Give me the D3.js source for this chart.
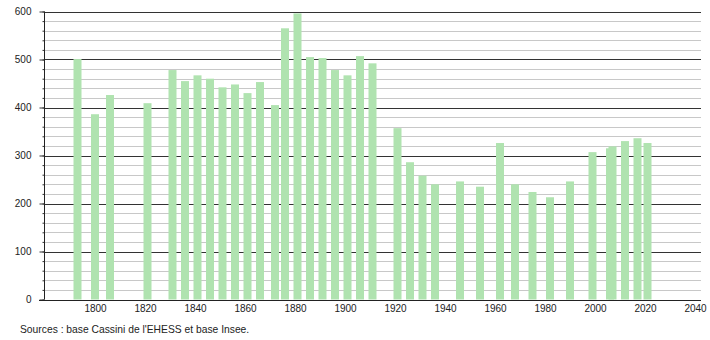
<!DOCTYPE html>
<html>
<head>
<meta charset="utf-8">
<script src="https://cdn.jsdelivr.net/npm/d3@7"></script>
<style>
  body { margin: 0; background: #fff; }
  svg { display: block; font-family: "Liberation Sans", Arial, sans-serif; }
</style>
</head>
<body>
<div id="chart"></div>
<script>
// census years and population
const years = [1793, 1800, 1806, 1821, 1831, 1836, 1841, 1846, 1851, 1856, 1861, 1866, 1872, 1876,
  1881, 1886, 1891, 1896, 1901, 1906, 1911, 1921, 1926, 1931, 1936, 1946, 1954, 1962, 1968,
  1975, 1982, 1990, 1999, 2006, 2007, 2012, 2017, 2021];
const population = [501, 386, 426, 409, 478, 455, 467, 460, 442, 448, 430, 453, 405, 565,
  596, 505, 503, 478, 467, 507, 492, 357, 286, 258, 240, 246, 235, 326, 240,
  224, 213, 246, 307, 315, 319, 330, 336, 326];
const yTicks = [0, 100, 200, 300, 400, 500, 600];
const yMinor = d3.range(0, 601, 20);
const xTicks = [1800, 1820, 1840, 1860, 1880, 1900, 1920, 1940, 1960, 1980, 2000, 2020, 2040];
const source = "Sources : base Cassini de l'EHESS et base Insee.";

const width = 710, height = 340;
const left = 44, right = 701;

const svg = d3.select("#chart").append("svg")
  .attr("width", width)
  .attr("height", height);

const x = d3.scaleLinear().domain([1780, 2040]).range([45, 695]);
const y = d3.scaleLinear().domain([0, 600]).range([299.5, 11.5]);

// grid lines (minor light, major dark)
svg.append("g")
  .selectAll("line")
  .data(yMinor.filter(v => v % 100 !== 0))
  .join("line")
    .attr("x1", left).attr("x2", right)
    .attr("y1", d => Math.round(y(d)) + 0.5).attr("y2", d => Math.round(y(d)) + 0.5)
    .attr("stroke", "#c8c8c8");

svg.append("g")
  .selectAll("line")
  .data(yTicks.filter(v => v > 0))
  .join("line")
    .attr("x1", left).attr("x2", right)
    .attr("y1", d => Math.round(y(d)) + 0.5).attr("y2", d => Math.round(y(d)) + 0.5)
    .attr("stroke", "#333");

// bars
const barW = 8;
svg.append("g")
  .attr("fill", "#b0e3b0")
  .selectAll("rect")
  .data(years)
  .join("rect")
    .attr("x", d => x(d) - barW / 2)
    .attr("y", (d, i) => y(population[i]))
    .attr("width", barW)
    .attr("height", (d, i) => y(0) - y(population[i]));

// y axis with minor ticks
svg.append("g")
  .attr("transform", `translate(${left + 0.5},0)`)
  .call(d3.axisLeft(y).tickValues(yMinor).tickSize(2).tickFormat(""))
  .call(g => g.select(".domain").remove())
  .call(g => g.selectAll("line").attr("stroke", "#333"));

svg.append("g")
  .attr("transform", `translate(${left + 0.5},0)`)
  .call(d3.axisLeft(y).tickValues(yTicks).tickSize(5).tickPadding(8))
  .call(g => g.select(".domain").attr("stroke", "#222").attr("d", `M0,${y(600)}V${y(0)}`))
  .call(g => g.selectAll("line").attr("stroke", "#333"))
  .call(g => g.selectAll("text").attr("font-size", 10).attr("fill", "#222")
    .attr("font-family", "Liberation Sans, Arial, sans-serif"));

// x axis
svg.append("g")
  .attr("transform", `translate(0,${Math.round(y(0)) + 0.5})`)
  .call(d3.axisBottom(x).tickValues(xTicks).tickSize(0).tickPadding(4).tickFormat(d3.format("d")))
  .call(g => g.select(".domain").attr("stroke", "#222").attr("d", `M39,0H${right}`))
  .call(g => g.selectAll("text").attr("font-size", 10).attr("fill", "#222")
    .attr("font-family", "Liberation Sans, Arial, sans-serif"));

svg.append("text")
  .attr("x", 20)
  .attr("y", 333)
  .attr("font-size", 10.3)
  .attr("fill", "#222")
  .text(source);
</script>
</body>
</html>
